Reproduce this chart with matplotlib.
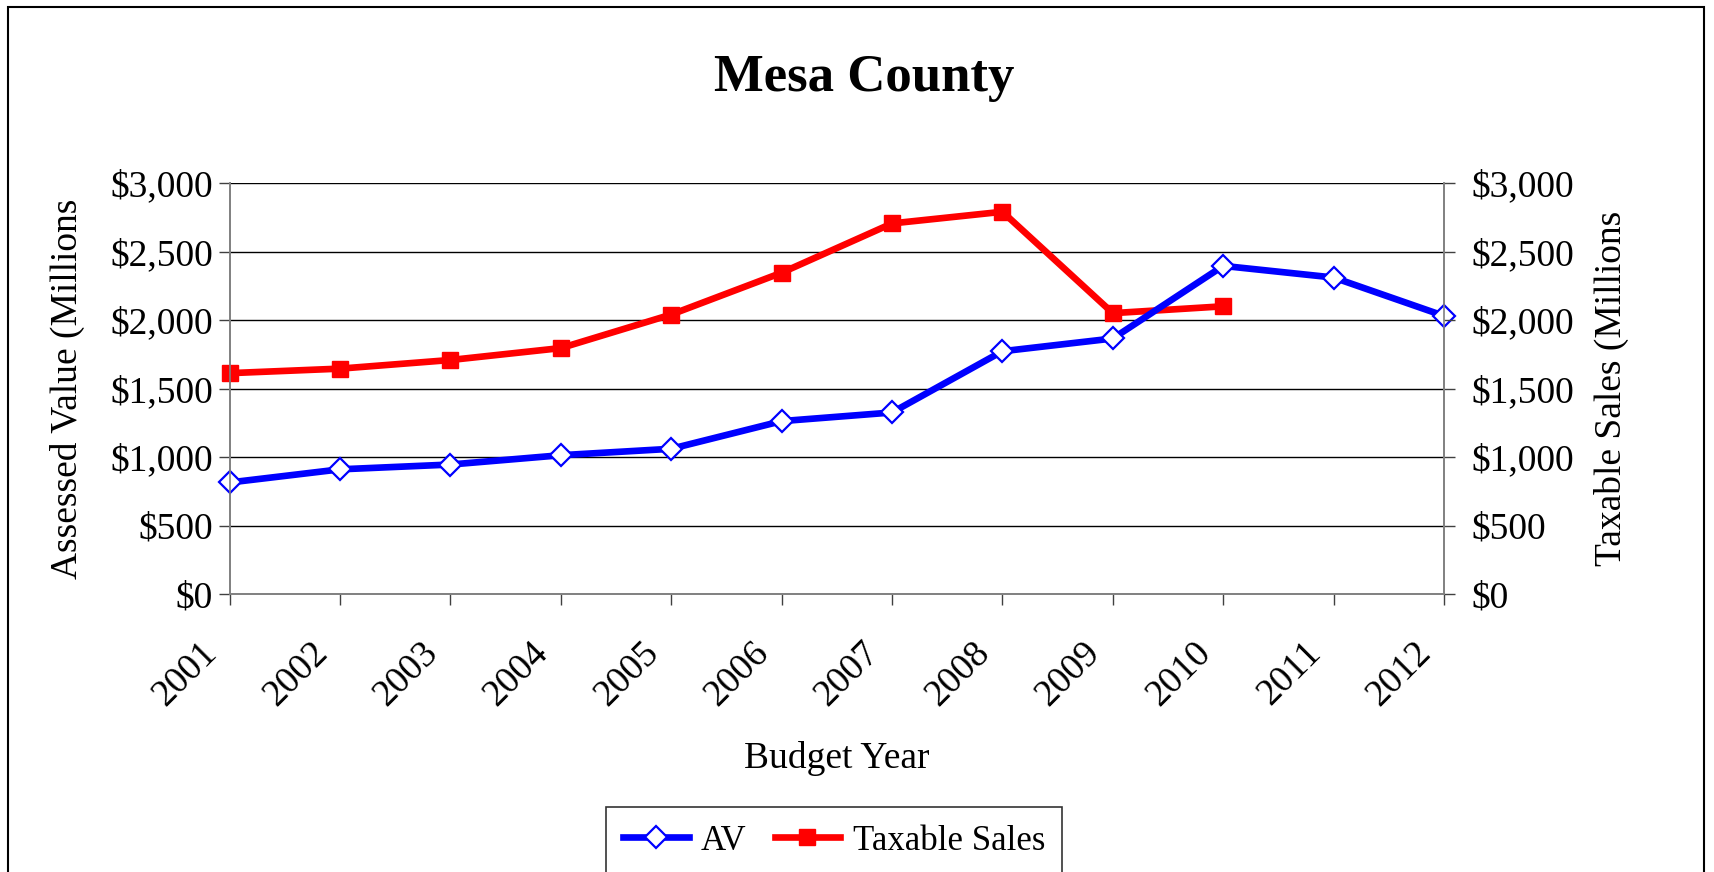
import matplotlib.pyplot as plt
from matplotlib.patches import Rectangle
from matplotlib.transforms import ScaledTranslation

years = list(range(2001, 2013))
av = [814, 910, 945, 1013, 1060, 1262, 1325, 1772, 1865, 2395, 2310, 2030]
sales_years = list(range(2001, 2011))
sales = [1612, 1645, 1708, 1795, 2040, 2345, 2705, 2790, 2050, 2100]
yticks = [0, 500, 1000, 1500, 2000, 2500, 3000]
ytick_labels = ['$0', '$500', '$1,000', '$1,500', '$2,000', '$2,500', '$3,000']

plt.rcParams['font.family'] = ['Liberation Serif', 'DejaVu Serif']

fig = plt.figure(figsize=(17.15, 8.72), dpi=100)
ax = fig.add_axes([229.7 / 1715, 1 - 594 / 872, (1444 - 229.7) / 1715, (594 - 183) / 872])
ax2 = ax.twinx()

l2, = ax.plot(sales_years, sales, color='#ff0000', lw=4.8, marker='s', ms=11,
              mfc='#ff0000', mec='#ff0000', label='Taxable Sales', zorder=3,
              clip_on=False)
l1, = ax.plot(years, av, color='#0000ff', lw=4.8, marker='D', ms=11,
              mfc='white', mec='#0000ff', mew=1.6, label='AV', zorder=4,
              clip_on=False)

for a in (ax, ax2):
    a.set_ylim(0, 3000)
    a.set_yticks(yticks)
    a.set_yticklabels(ytick_labels)
    for s in a.spines.values():
        s.set_color('#808080')
        s.set_linewidth(1.2)
    a.spines['top'].set_visible(False)
ax.set_xlim(2001, 2012)
ax.set_xticks(years)
ax.tick_params(axis='x', length=8, width=1, color='#404040', labelsize=27, pad=22)
ax.tick_params(axis='y', length=8, width=1, color='#404040', labelsize=27, pad=4)
ax2.tick_params(axis='y', length=8, width=1, color='#404040', labelsize=27, pad=12)
ax.set_xticklabels([str(y) for y in years], rotation=45, ha='right',
                   rotation_mode='anchor')
# rotated year labels sit a little left of their ticks
shift = ScaledTranslation(-30 / 100, 0, fig.dpi_scale_trans)
for lab in ax.get_xticklabels():
    lab.set_transform(lab.get_transform() + shift)
ax.yaxis.grid(True, color='black', lw=1)
ax.set_axisbelow(True)

ax.set_ylabel('Assessed Value (Millions', fontsize=27, labelpad=18)
ax2.set_ylabel('Taxable Sales (Millions', fontsize=27, labelpad=14)
ax.set_xlabel('Budget Year', fontsize=27, labelpad=20)
fig.text(864 / 1715, 1 - 78 / 872, 'Mesa County', fontsize=38, fontweight='bold',
         ha='center', va='center')

leg = fig.legend([l1, l2], ['AV', 'Taxable Sales'], loc='lower center',
                 bbox_to_anchor=(834 / 1715, -3 / 872), ncol=2, fontsize=25,
                 frameon=True, fancybox=False, edgecolor='black', handlelength=1.9,
                 columnspacing=0.8, handletextpad=0.35, borderpad=0.5,
                 borderaxespad=0)
leg.get_frame().set_linewidth(1.2)

fig.patches.append(Rectangle((8 / 1715, -0.05), (1704 - 8) / 1715, 1.05 - 7 / 872,
                             transform=fig.transFigure, fill=False,
                             edgecolor='black', lw=1.5))

fig.savefig('out.png', dpi=100)
